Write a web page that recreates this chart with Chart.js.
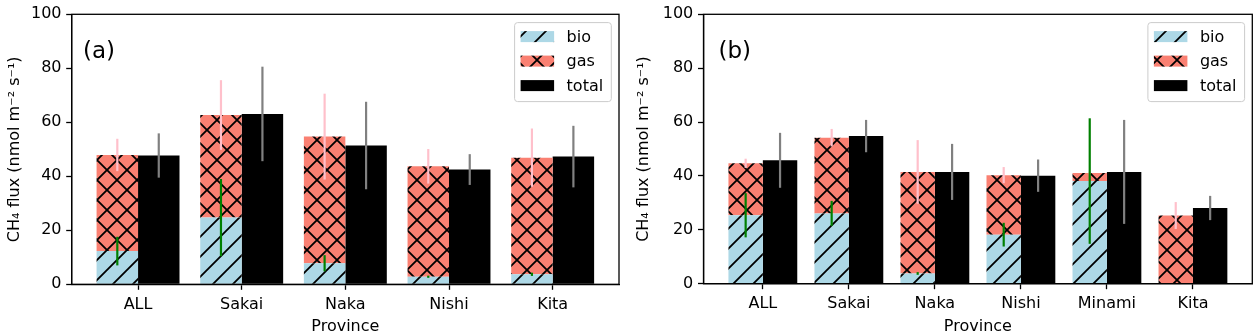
<!DOCTYPE html>
<html><head><meta charset="utf-8">
<script src="https://cdn.jsdelivr.net/npm/chart.js@4/dist/chart.umd.min.js"></script>
<style>
html,body{margin:0;padding:0;background:#fff;width:1259px;height:336px;overflow:hidden;}
#wa{position:absolute;left:0;top:0;width:629px;height:336px;}
#wb{position:absolute;left:629px;top:0;width:630px;height:336px;}
canvas{display:block;}
</style></head><body>
<div id="wa"><canvas id="ca" width="629" height="336"></canvas></div>
<div id="wb"><canvas id="cb" width="630" height="336"></canvas></div>
<script>
// ---- data ----
const yTicks = [0, 20, 40, 60, 80, 100];

const catsA = ['ALL', 'Sakai', 'Naka', 'Nishi', 'Kita'];
const bioA = [12.3, 24.7, 7.8, 2.8, 3.7];
const gasA = [35.6, 38.0, 46.9, 40.9, 43.2];
const totalA = [47.7, 63.1, 51.4, 42.5, 47.3];
const bioErrA = [5.3, 14.3, 3.0, 0.4, 0.6];
const gasErrA = [6.0, 12.9, 15.9, 6.4, 10.8];
const totalErrA = [8.2, 17.5, 16.2, 5.7, 11.4];

const catsB = ['ALL', 'Sakai', 'Naka', 'Nishi', 'Minami', 'Kita'];
const bioB = [25.4, 26.1, 3.8, 18.2, 38.1, 0];
const gasB = [19.3, 28.1, 37.7, 22.1, 3.0, 25.3];
const totalB = [45.8, 54.8, 41.5, 40.1, 41.5, 28.1];
const bioErrB = [8.2, 4.65, 0.5, 4.4, 23.3, 0];
const gasErrB = [1.7, 3.25, 11.8, 3.0, 0.5, 5.0];
const totalErrB = [10.2, 6.0, 10.4, 6.0, 19.3, 4.5];

const FAM = '"DejaVu Sans", sans-serif';

function makeHatch(bg, kind, tx, ty) {
  const s = 20;
  const c = document.createElement('canvas'); c.width = s; c.height = s;
  const g = c.getContext('2d');
  g.fillStyle = bg; g.fillRect(0, 0, s, s);
  g.strokeStyle = '#000'; g.lineWidth = 1.8;
  g.beginPath();
  for (const k of [-1, 0, 1]) {
    g.moveTo(k * s - 1, s + 1); g.lineTo(k * s + s + 1, -1);
    if (kind === 'x') { g.moveTo(k * s - 1, -1); g.lineTo(k * s + s + 1, s + 1); }
  }
  g.stroke();
  const p = g.createPattern(c, 'repeat');
  p.setTransform(new DOMMatrix().translate(tx, ty));
  return p;
}

function build(id, cats, bio, gas, total, bioErr, gasErr, totalErr, geo) {
  const hb = makeHatch('#ADD8E6', '/', 7 - geo.ox, 10);
  const hg = makeHatch('#FA8072', 'x', 7 - geo.ox, 10);

  const extras = {
    id: 'extras' + id,
    afterDatasetsDraw(chart) {
      const ctx = chart.ctx, xs = chart.scales.x, ys = chart.scales.y, ca = chart.chartArea;
      ctx.save();
      ctx.lineWidth = 2.2; ctx.lineCap = 'butt';
      const seg = (xv, c, e, col) => {
        if (!e) return;
        const px = xs.getPixelForValue(xv);
        ctx.strokeStyle = col;
        ctx.beginPath();
        ctx.moveTo(px, ys.getPixelForValue(c - e));
        ctx.lineTo(px, ys.getPixelForValue(c + e));
        ctx.stroke();
      };
      cats.forEach((_, i) => seg(i - 0.2, bio[i] + gas[i], gasErr[i], '#FFC0CB'));
      cats.forEach((_, i) => seg(i - 0.2, bio[i], bioErr[i], '#008000'));
      cats.forEach((_, i) => seg(i + 0.2, total[i], totalErr[i], '#808080'));
      // spines
      ctx.strokeStyle = '#000'; ctx.lineWidth = 1.3;
      ctx.strokeRect(ca.left, ca.top, ca.right - ca.left, ca.bottom - ca.top);
      ctx.restore();
    },
    afterDraw(chart) {
      const ctx = chart.ctx, ca = chart.chartArea;
      ctx.save();
      // panel tag
      ctx.fillStyle = '#000';
      ctx.font = '23px ' + FAM;
      ctx.textAlign = 'left'; ctx.textBaseline = 'alphabetic';
      ctx.fillText(geo.tag, ca.left + geo.tagDx, 58);
      // legend
      const w = 96.7, h = 79;
      const x0 = ca.right - 7.7 - w, y0 = ca.top + 8.3;
      const r = 3;
      ctx.beginPath();
      ctx.moveTo(x0 + r, y0); ctx.lineTo(x0 + w - r, y0); ctx.arcTo(x0 + w, y0, x0 + w, y0 + r, r);
      ctx.lineTo(x0 + w, y0 + h - r); ctx.arcTo(x0 + w, y0 + h, x0 + w - r, y0 + h, r);
      ctx.lineTo(x0 + r, y0 + h); ctx.arcTo(x0, y0 + h, x0, y0 + h - r, r);
      ctx.lineTo(x0, y0 + r); ctx.arcTo(x0, y0, x0 + r, y0, r);
      ctx.closePath();
      ctx.fillStyle = 'rgba(255,255,255,0.8)'; ctx.fill();
      ctx.strokeStyle = '#cccccc'; ctx.lineWidth = 1; ctx.stroke();
      chart.data.datasets.forEach((ds, k) => {
        const cy = y0 + 14 + k * 24.5;
        ctx.fillStyle = ds.backgroundColor;
        ctx.fillRect(x0 + 6, cy - 5.5, 33.5, 11);
        ctx.fillStyle = '#000';
        ctx.font = '16px ' + FAM;
        ctx.textBaseline = 'middle';
        ctx.fillText(ds.label, x0 + 52, cy + 1);
      });
      ctx.restore();
    }
  };

  const gridOpt = { display: true, offset: false, drawOnChartArea: false, drawTicks: true, tickLength: 5.5, tickWidth: 1.3, tickColor: '#000' };
  const borderOpt = { display: true, color: '#000', width: 1.3 };

  return new Chart(document.getElementById(id), {
    type: 'bar',
    data: {
      datasets: [
        { label: 'bio', data: bio.map((v, i) => ({ x: i - 0.2, y: v })), backgroundColor: hb, stack: 's' },
        { label: 'gas', data: gas.map((v, i) => ({ x: i - 0.2, y: v })), backgroundColor: hg, stack: 's' },
        { label: 'total', data: total.map((v, i) => ({ x: i + 0.2, y: v })), backgroundColor: '#000000', stack: 't' }
      ]
    },
    options: {
      responsive: false, animation: false, devicePixelRatio: 1,
      layout: { padding: { left: 0, top: geo.padTop, right: geo.padRight, bottom: 0 } },
      plugins: { legend: { display: false }, tooltip: { enabled: false } },
      datasets: { bar: { grouped: false, barPercentage: 1, categoryPercentage: 1, borderWidth: 0, inflateAmount: 0 } },
      scales: {
        x: {
          type: 'linear', min: geo.xmin, max: geo.xmax, offset: false,
          afterBuildTicks: s => { s.ticks = cats.map((c, i) => ({ value: i })); },
          afterFit: s => { s.height = geo.xH; },
          ticks: { autoSkip: false, maxRotation: 0, padding: 5, color: '#000', font: { family: FAM, size: 16 }, callback: v => cats[v] },
          grid: gridOpt, border: borderOpt,
          title: { display: true, text: 'Province', color: '#000', font: { family: FAM, size: 16 }, padding: { top: 0, bottom: 0 } }
        },
        y: {
          type: 'linear', min: 0, max: 100, stacked: true,
          afterBuildTicks: s => { s.ticks = yTicks.map(v => ({ value: v })); },
          afterFit: s => { s.width = geo.yW; },
          ticks: { padding: 4.7, color: '#000', font: { family: FAM, size: 16 } },
          grid: gridOpt, border: borderOpt,
          title: { display: true, text: 'CH₄ flux (nmol m⁻² s⁻¹)', color: '#000', font: { family: FAM, size: 16 }, padding: { top: 5, bottom: 0 } }
        }
      }
    },
    plugins: [extras]
  });
}

build('ca', catsA, bioA, gasA, totalA, bioErrA, gasErrA, totalErrA,
  { ox: 0, yW: 71.7, padTop: 12.7, padRight: 10, xH: 51.7, xmin: -0.64, xmax: 4.64, tag: '(a)', tagDx: 11.3 });
build('cb', catsB, bioB, gasB, totalB, bioErrB, gasErrB, totalErrB,
  { ox: 629, yW: 74.5, padTop: 12, padRight: 6.7, xH: 52.3, xmin: -0.69, xmax: 5.69, tag: '(b)', tagDx: 15 });
</script>
</body></html>
